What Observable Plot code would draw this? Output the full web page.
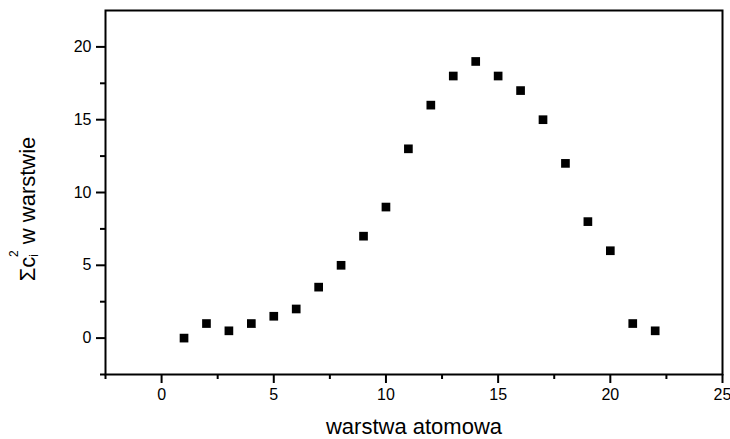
<!DOCTYPE html>
<html>
<head>
<meta charset="utf-8">
<script src="https://cdn.jsdelivr.net/npm/d3@7"></script>
<script src="https://cdn.jsdelivr.net/npm/@observablehq/plot@0.6"></script>
<style>
body { margin: 0; background: #fff; }
svg { font-family: "Liberation Sans", Arial, sans-serif; }
</style>
</head>
<body>
<div id="chart"></div>
<script>
const layers = [1,2,3,4,5,6,7,8,9,10,11,12,13,14,15,16,17,18,19,20,21,22];
const values = [0,1,0.5,1,1.5,2,3.5,5,7,9,13,16,18,19,18,17,15,12,8,6,1,0.5];
const xTicks = [0,5,10,15,20,25];
const xMinor = [-2.5,2.5,7.5,12.5,17.5,22.5];
const yTicks = [0,5,10,15,20];
const yMinor = [-2.5,2.5,7.5,12.5,17.5];
const xLabel = "warstwa atomowa";

const data = layers.map((x, i) => ({x, y: values[i]}));

const plot = Plot.plot({
  width: 730,
  height: 439,
  marginLeft: 105,
  marginRight: 8,
  marginTop: 10,
  marginBottom: 65,
  style: {fontFamily: "'Liberation Sans', Arial, sans-serif", color: "#000", background: "#fff"},
  x: {domain: [-2.5, 25]},
  y: {domain: [-2.5, 22.5]},
  marks: [
    Plot.frame({stroke: "#000", strokeWidth: 2}),
    Plot.axisX({ticks: xTicks, tickSize: 9, tickPadding: 5, label: null, fontSize: 16}),
    Plot.axisX({ticks: xMinor, tickSize: 5, tickFormat: () => "", label: null}),
    Plot.axisY({ticks: yTicks, tickSize: 9, tickPadding: 5, label: null, fontSize: 16}),
    Plot.axisY({ticks: yMinor, tickSize: 5, tickFormat: () => "", label: null}),
    Plot.text([xLabel], {frameAnchor: "bottom", dy: 59, text: d => d, fontSize: 22, lineAnchor: "bottom", fill: "#000"}),
    Plot.dot(data, {x: "x", y: "y", symbol: "square", r: 4.9, fill: "#000", stroke: "none"})
  ]
});
document.getElementById("chart").appendChild(plot);

const svg = d3.select(plot);
// enforce tick label size and tick thickness
svg.selectAll("g").each(function () {
  const a = this.getAttribute("aria-label") || "";
  if (/tick label$/.test(a)) {
    d3.select(this).selectAll("text").style("font-size", "16px").style("fill", "#000");
  } else if (/tick$/.test(a)) {
    this.setAttribute("stroke-width", 2);
    d3.select(this).selectAll("*").style("stroke-width", "2px").style("stroke", "#000");
  }
});

// y-axis label with subscript and superscript
const t = svg.append("text")
  .attr("transform", "translate(35,209) rotate(-90)")
  .attr("text-anchor", "middle")
  .attr("font-size", 22)
  .attr("fill", "#000");
t.append("tspan").text("Σc");
t.append("tspan").attr("font-size", 12).attr("dy", 3).text("i");
t.append("tspan").attr("font-size", 12).attr("dx", -3).attr("dy", -20).text("2");
t.append("tspan").attr("dy", 17).text(" w warstwie");
</script>
</body>
</html>
